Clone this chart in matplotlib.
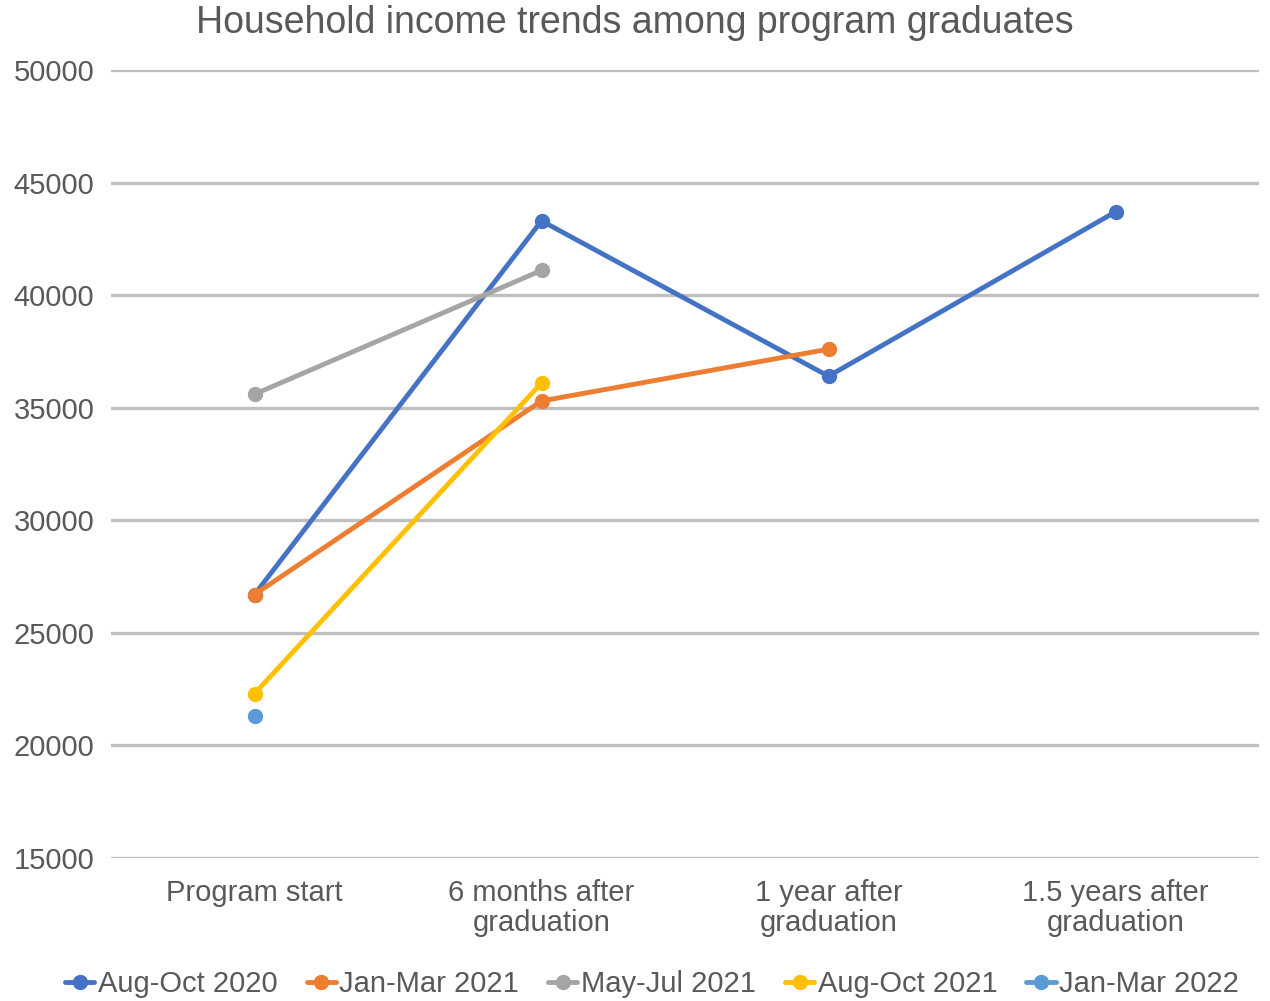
import matplotlib
matplotlib.use("Agg")
import matplotlib.pyplot as plt
from matplotlib.ticker import MultipleLocator
import numpy as np

plt.rcParams["font.family"] = ["Liberation Sans", "DejaVu Sans"]
TXT = "#595959"
GRID = "#BFBFBF"

stages = ["Program start", "6 months after\ngraduation", "1 year after\ngraduation", "1.5 years after\ngraduation"]
cohorts = ["Aug-Oct 2020", "Jan-Mar 2021", "May-Jul 2021", "Aug-Oct 2021", "Jan-Mar 2022"]
colors = ["#4472C4", "#ED7D31", "#A5A5A5", "#FFC000", "#5B9BD5"]

# nan = not yet measured for that cohort
aug_oct_2020 = [26700, 43300, 36400, 43700]
jan_mar_2021 = [26700, 35300, 37600, np.nan]
may_jul_2021 = [35600, 41100, np.nan, np.nan]
aug_oct_2021 = [22300, 36100, np.nan, np.nan]
jan_mar_2022 = [21300, np.nan, np.nan, np.nan]
series = [aug_oct_2020, jan_mar_2021, may_jul_2021, aug_oct_2021, jan_mar_2022]

fig = plt.figure(figsize=(12.7, 10.01), dpi=100)
ax = fig.add_axes([111 / 1270, 1 - 858 / 1001, 1148 / 1270, 788 / 1001])

x = np.arange(len(stages))
for name, vals, c in zip(cohorts, series, colors):
    ax.plot(x, vals, color=c, lw=3.5, marker="o", ms=10, mfc=c, mec=c, label=name,
            solid_capstyle="round", zorder=3)

ax.set_xlim(-0.5, len(stages) - 0.5)
ax.set_ylim(15000, 50000)
ax.yaxis.set_major_locator(MultipleLocator(5000))
ax.set_xticks(x)
ax.set_xticklabels(stages, fontsize=21, color=TXT, linespacing=1.1)
ax.tick_params(axis="y", labelsize=21, labelcolor=TXT, length=0, pad=12)
ax.tick_params(axis="x", length=0, pad=15)
ax.grid(axis="y", color=GRID, lw=2.4)
ax.set_axisbelow(True)
for s in ax.spines.values():
    s.set_visible(False)

fig.text(0.5, 1 - 23 / 1001, "Household income trends among program graduates",
         ha="center", va="center", fontsize=27, color=TXT)

leg = fig.legend(loc="center", bbox_to_anchor=(0.5135, 1 - 984 / 1001), ncol=5, frameon=False,
                 fontsize=21, handlelength=1.0, handletextpad=0.12, columnspacing=1.0,
                 labelcolor=TXT)

fig.savefig("out.png", dpi=100)
